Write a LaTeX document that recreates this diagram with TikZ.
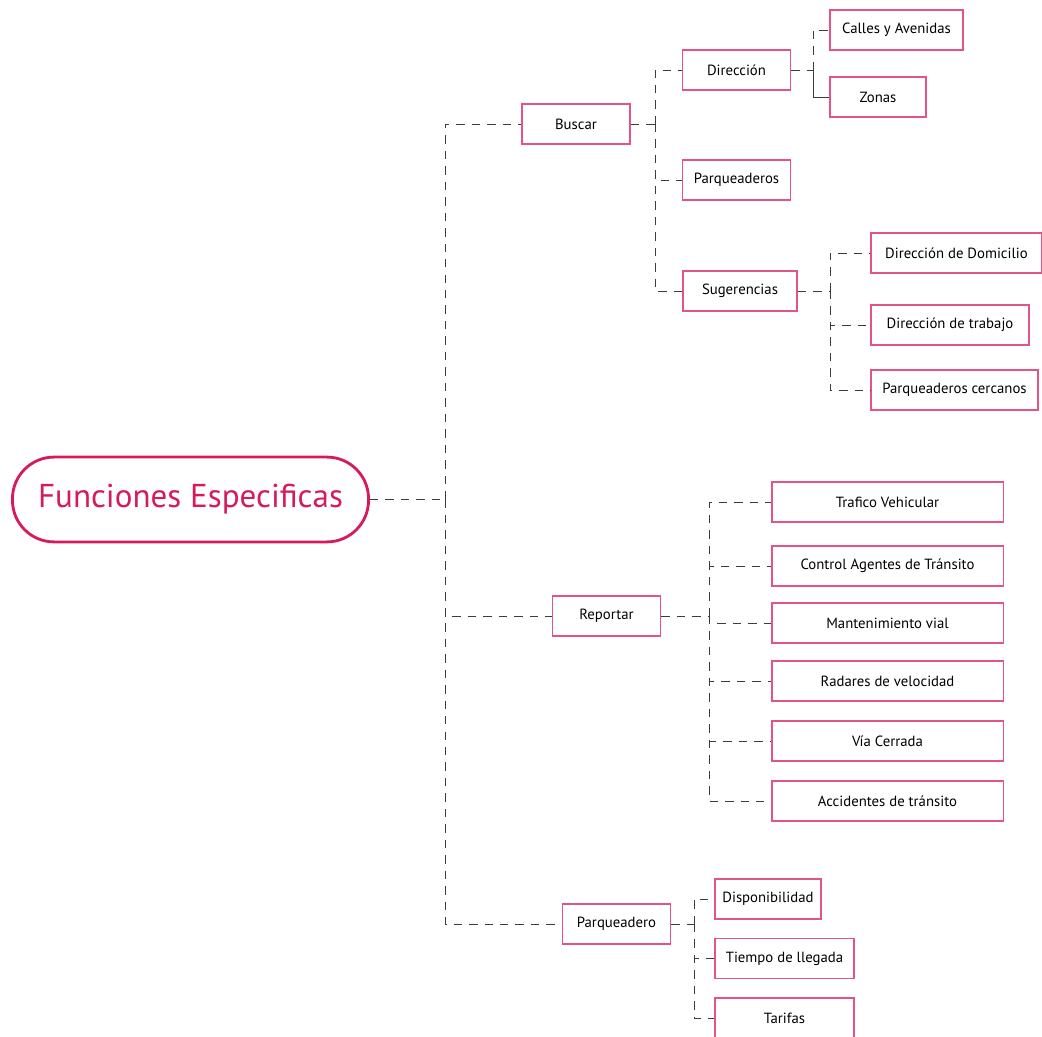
\documentclass[tikz,border=0pt]{standalone}
\usepackage{fontspec}
\setmainfont{PT Sans}
\definecolor{rootred}{RGB}{214,26,90}
\definecolor{boxpink}{RGB}{228,84,128}
\definecolor{linkgray}{RGB}{60,60,60}
\begin{document}
\begin{tikzpicture}[x=0.025cm, y=-0.025cm,
    rootnode/.style={draw=rootred, line width=2pt, rounded corners=1.04cm, text=rootred,
      minimum width=8.9cm, minimum height=2.12cm, font=\fontsize{23.5}{26}\selectfont},
    leaf/.style={draw=boxpink, line width=0.9pt, minimum height=1cm, inner sep=2pt,
      font=\fontsize{10.5}{12}\selectfont},
    link/.style={draw=linkgray, line width=0.7pt, dash pattern=on 6pt off 5pt},
    solidlink/.style={draw=linkgray, line width=0.7pt}]
    \useasboundingbox (0,0) rectangle (1042,1037);

    % Root
    \node[rootnode] (root) at (190.5,499.5) {Funciones Especificas};

    % First level
    \node[leaf, minimum width=2.7cm] (buscar) at (576,124) {Buscar};
    \node[leaf, minimum width=2.7cm] (reportar) at (606.5,616) {Reportar};
    \node[leaf, minimum width=2.7cm] (parq) at (616.5,924) {Parqueadero};

    % Buscar children
    \node[leaf, minimum width=2.7cm] (direccion) at (736.5,70) {Dirección};
    \node[leaf, minimum width=2.7cm] (parqs) at (736.5,180) {Parqueaderos};
    \node[leaf, minimum width=2.85cm] (suger) at (740,291) {Sugerencias};

    % Direccion children
    \node[leaf, minimum width=3.33cm] (calles) at (896.5,30) {Calles y Avenidas};
    \node[leaf, minimum width=2.4cm] (zonas) at (878,97) {Zonas};

    % Sugerencias children
    \node[leaf, minimum width=4.28cm] (domicilio) at (956.5,253) {Dirección de Domicilio};
    \node[leaf, minimum width=3.95cm] (trabajo) at (950,325) {Dirección de trabajo};
    \node[leaf, minimum width=4.18cm] (cercanos) at (954.5,390) {Parqueaderos cercanos};

    % Reportar children
    \foreach \name/\yy/\txt in {trafico/502/Trafico Vehicular,
        control/566/Control Agentes de Tránsito,
        mante/623/Mantenimiento vial,
        radares/681/Radares de velocidad,
        cerrada/741/Vía Cerrada,
        accid/801/Accidentes de tránsito}
      \node[leaf, minimum width=5.78cm] (\name) at (887.5,\yy) {\txt};

    % Parqueadero children
    \node[leaf, minimum width=2.65cm] (dispo) at (768,899) {Disponibilidad};
    \node[leaf, minimum width=3.48cm] (tiempo) at (784.5,958.5) {Tiempo de llegada};
    \node[leaf, minimum width=3.48cm] (tarifas) at (784.5,1018) {Tarifas};

    % Connectors
    \draw[link] (root.east) -- (445,499.5) coordinate (s0);
    \foreach \kid in {buscar, reportar, parq}
      \draw[link] (s0) |- (\kid.west);

    \draw[link] (buscar.east) -- (655,124) coordinate (s1);
    \foreach \kid in {direccion, parqs, suger}
      \draw[link] (s1) |- (\kid.west);

    \draw[link] (direccion.east) -- (813,70) coordinate (s2);
    \draw[link] (s2) |- (calles.west);
    \draw[solidlink] (s2) |- (zonas.west);

    \draw[link] (suger.east) -- (830,291) coordinate (s3);
    \foreach \kid in {domicilio, trabajo, cercanos}
      \draw[link] (s3) |- (\kid.west);

    \draw[link] (reportar.east) -- (709,616) coordinate (s4);
    \foreach \kid in {trafico, control, mante, radares, cerrada, accid}
      \draw[link] (s4) |- (\kid.west);

    \draw[link] (parq.east) -- (694,924) coordinate (s5);
    \foreach \kid in {dispo, tiempo, tarifas}
      \draw[link] (s5) |- (\kid.west);
\end{tikzpicture}
\end{document}
